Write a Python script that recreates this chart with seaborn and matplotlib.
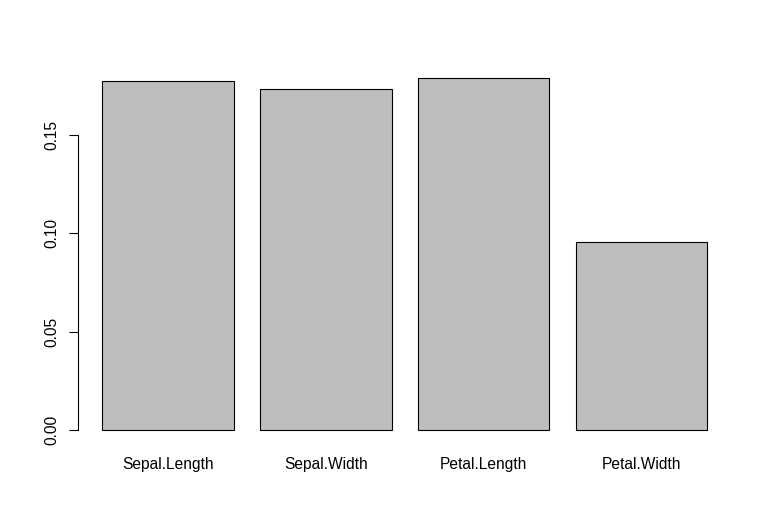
import pandas as pd
import seaborn as sns
import matplotlib.pyplot as plt

# values
features = ["Sepal.Length", "Sepal.Width", "Petal.Length", "Petal.Width"]
values = [0.1771, 0.1734, 0.1786, 0.0953]
y_ticks = [0.00, 0.05, 0.10, 0.15]

df = pd.DataFrame({"feature": features, "value": values})

sns.set_style("white")
plt.rcParams['font.family'] = ['Liberation Sans', 'DejaVu Sans']

fig = plt.figure(figsize=(7.72, 5.32), dpi=100)
ax = fig.add_axes([0.1012, 0.1652, 0.8463, 0.7138])

sns.barplot(data=df, x="feature", y="value", color="#BEBEBE", saturation=1,
            width=1 / 1.2, edgecolor="black", linewidth=0.8, ax=ax)

top = max(values)
ax.set_ylim(-0.04 * top, 1.04 * top)
ax.set_xlim(-0.5 / 1.2 - 0.04 * (3 + 1 / 1.2), 3 + 0.5 / 1.2 + 0.04 * (3 + 1 / 1.2))

for s in ["top", "right", "bottom"]:
    ax.spines[s].set_visible(False)
ax.spines["left"].set_bounds(y_ticks[0], y_ticks[-1])
ax.spines["left"].set_linewidth(0.8)
ax.spines["left"].set_color("black")

ax.set_yticks(y_ticks)
ax.set_yticklabels([f"{t:.2f}" for t in y_ticks], rotation=90, va="center")
ax.tick_params(axis="y", length=6.7, width=0.8, pad=6.5, labelsize=11.2, left=True,
               color="black", labelcolor="black")
ax.tick_params(axis="x", length=0, pad=9.5, labelsize=11.2, labelcolor="black")
ax.set_xlabel("")
ax.set_ylabel("")

fig.savefig("out.png", dpi=100)
